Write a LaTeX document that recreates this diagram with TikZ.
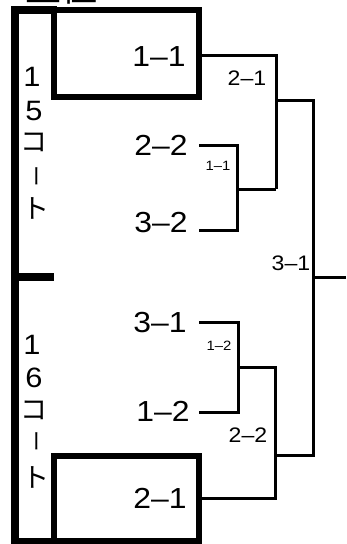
\documentclass[tikz,border=0pt]{standalone}
\usepackage{fontspec}
\setmainfont{Liberation Sans}[FakeStretch=1.1]
\newfontfamily\cjk{Noto Sans CJK JP}
\usepackage{graphicx}
\begin{document}
\begin{tikzpicture}[x=1pt,y=-1pt,
  frame/.style={line width=7.5pt,line join=miter},
  boxline/.style={draw,line width=6pt,inner sep=0pt,line join=miter},
  wire/.style={line width=3pt,line join=miter},
  big/.style={font=\fontsize{29}{29}\selectfont,inner sep=0pt},
  mid/.style={font=\fontsize{21}{21}\selectfont,inner sep=0pt},
  small/.style={font=\fontsize{13.5}{13.5}\selectfont,inner sep=0pt},
  vch/.style={font=\fontsize{28}{28}\selectfont,inner sep=0pt},
  vkana/.style={font=\fontsize{27}{27}\selectfont\cjk,inner sep=0pt}]
\useasboundingbox (0,0) rectangle (346,544);
% title (cut off at top, as in the reference)
\node[font=\fontsize{36}{36}\selectfont\cjk,inner sep=0pt,anchor=base] (title) at (61,1) {上位};
% court frames
\draw[frame] (15,548) -- (15,10) -- (57,10);
\draw[line width=8.5pt] (15,277) -- (54,277);
\draw[line width=6pt] (15,541) -- (57,541);
\node[boxline,minimum width=145pt,minimum height=87pt] (box11) at (126.5,53.5) {};
\node[boxline,minimum width=145pt,minimum height=85pt] (box21) at (126.5,498.5) {};
% vertical court labels
\node[vch] (u1) at (32,77) {1};
\node[vch] (u2) at (34,111) {5};
\node[vkana] (u3) at (34,142) {コ};
\node[vkana,rotate=-90,scale=0.8] (u4) at (33,176) {ー};
\node[vkana] (u5) at (36,208) {ト};
\node[vch] (l1) at (32,345) {1};
\node[vch] (l2) at (34,378) {6};
\node[vkana] (l3) at (34,410) {コ};
\node[vkana,rotate=-90,scale=0.8] (l4) at (33,441) {ー};
\node[vkana] (l5) at (36,477) {ト};
% team labels
\node[big] (t11) at (159,57) {1–1};
\node[big] (t22) at (161,145) {2–2};
\node[big] (t32) at (161,223) {3–2};
\node[big] (t31) at (160,323) {3–1};
\node[big] (t12) at (163,411) {1–2};
\node[big] (t21) at (160,498) {2–1};
% match labels
\node[small] (m11) at (218,166) {1–1};
\node[small] (m12) at (219,346) {1–2};
\node[mid] (m21) at (247,78) {2–1};
\node[mid] (m22) at (248,435) {2–2};
\node[mid] (m31) at (291,263) {3–1};
% junction coordinates
\coordinate (a22) at (199,145);
\coordinate (a32) at (199,230);
\coordinate (j11) at (237,189);
\coordinate (a11) at (202,55);
\coordinate (j21) at (275,100);
\coordinate (a31) at (199,322);
\coordinate (a12) at (199,412);
\coordinate (j12) at (238,367);
\coordinate (a21) at (201,498);
\coordinate (j22) at (275,455);
\coordinate (j31) at (313,277);
\coordinate (fin) at (346,277);
% bracket
\draw[wire] (a22) -| (j11) |- (a32);
\draw[wire] (j11) -- (276,189);
\draw[wire] (a11) -| (276,189);
\draw[wire] (j21) -| (j31) |- (j22);
\draw[wire] (j31) -- (fin);
\draw[wire] (a31) -| (j12) |- (a12);
\draw[wire] (j12) -| (j22) |- (a21);
\end{tikzpicture}
\end{document}
